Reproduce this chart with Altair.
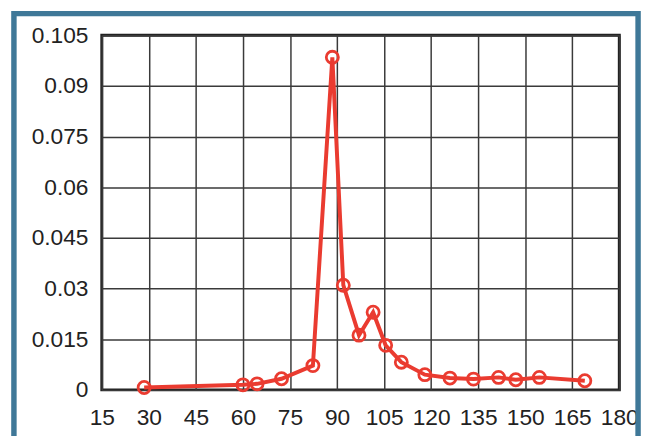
import altair as alt
import pandas as pd

x_vals = [28.5, 60, 64.5, 72.3, 82.3, 88.5, 92, 97, 101.5, 105.5, 110.5, 118, 126, 133.5, 141.5, 147, 154.5, 169]
y_vals = [0.0007, 0.0015, 0.0018, 0.0033, 0.0072, 0.0985, 0.031, 0.0162, 0.023, 0.0132, 0.0082, 0.0045, 0.0035, 0.0032, 0.0037, 0.003, 0.0037, 0.0027]
x_ticks = [15, 30, 45, 60, 75, 90, 105, 120, 135, 150, 165, 180]
y_ticks = [0, 0.015, 0.03, 0.045, 0.06, 0.075, 0.09, 0.105]

df = pd.DataFrame({"x": x_vals, "y": y_vals})
RED = "#ea3b30"

base = alt.Chart(df).encode(
    x=alt.X("x:Q", scale=alt.Scale(domain=[15, 180], nice=False, zero=False),
            axis=alt.Axis(values=x_ticks, title=None, grid=True, ticks=False, domain=False,
                          labelPadding=17, labelFlush=False)),
    y=alt.Y("y:Q", scale=alt.Scale(domain=[0, 0.105], nice=False),
            axis=alt.Axis(values=y_ticks, title=None, grid=True, ticks=False, domain=False,
                          labelExpr="toString(datum.value)", labelPadding=14)),
)

line = base.mark_line(color=RED, strokeWidth=4)
points = base.mark_point(shape="circle", filled=False, color=RED, size=150, strokeWidth=2.8, opacity=1)

frame = alt.Chart(pd.DataFrame({"a": [0]})).mark_rect(
    filled=False, stroke="#3f7898", strokeWidth=5.5, clip=False
).encode(
    x=alt.value(-89), x2=alt.value(543), y=alt.value(-22), y2=alt.value(430)
)

chart = alt.layer(frame, line, points).properties(
    width=524, height=359,
    autosize=alt.AutoSizeParams(type="none"),
    padding={"left": 95, "top": 25, "right": 25, "bottom": 44},
    background="white",
).configure_view(
    stroke="#222222", strokeWidth=3
).configure_axis(
    gridColor="#3a3a3a", gridWidth=1.5, gridOpacity=1,
    labelFont="Liberation Sans", labelFontSize=23, labelColor="#222222"
)

chart.save("out.html", embed_options={"renderer": "svg", "actions": False})
